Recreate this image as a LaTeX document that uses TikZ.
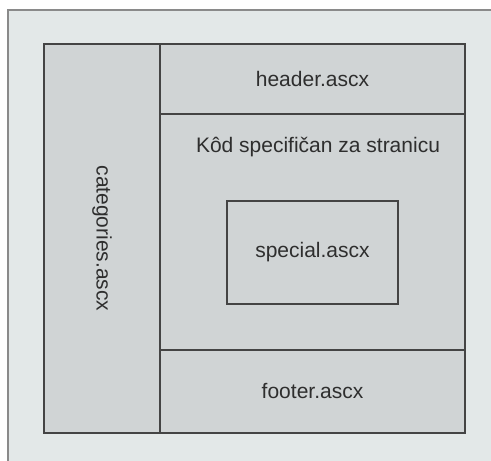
\documentclass[tikz,border=0pt]{standalone}
\usepackage{fontspec}
\setmainfont{Liberation Sans}
\usepackage{xcolor}
\usetikzlibrary{positioning,calc}

\definecolor{pagebg}{HTML}{E3E8E8}
\definecolor{partbg}{HTML}{D0D4D5}
\definecolor{partline}{HTML}{444444}
\definecolor{frameline}{HTML}{8A8A8A}
\definecolor{parttext}{HTML}{2E2E2E}

\tikzset{
    part/.style={draw=partline, fill=partbg, line width=1.3pt, inner sep=0pt,
        text=parttext, font=\fontsize{21}{24}\selectfont},
}

\begin{document}
\begin{tikzpicture}[x=1pt, y=-1pt]
    \useasboundingbox (0,0) rectangle (491,461);
    % page frame
    \fill [pagebg] (8,10) rectangle (491,461);
    \draw [frameline, line width=1.6pt] (8,461) -- (8,10) -- (491,10);

    \node [part, minimum width=116pt, minimum height=389pt] (cat) at (102,238.5) {};
    \node [part, minimum width=305pt, minimum height=70pt] (header) at (312.5,79) {header.ascx};
    \node [part, minimum width=305pt, minimum height=236pt] (body) at (312.5,232) {};
    \node [part, minimum width=305pt, minimum height=83pt] (footer) at (312.5,391.5) {footer.ascx};
    \node [part, minimum width=171pt, minimum height=103pt] (special) at (312.5,252.5) {special.ascx};

    \node [text=parttext, font=\fontsize{21}{24}\selectfont, rotate=-90] (catlabel) at (cat.center) {categories.ascx};
    \node [text=parttext, font=\fontsize{21}{24}\selectfont] (bodylabel) at (318,147) {Kôd specifičan za stranicu};
\end{tikzpicture}
\end{document}
